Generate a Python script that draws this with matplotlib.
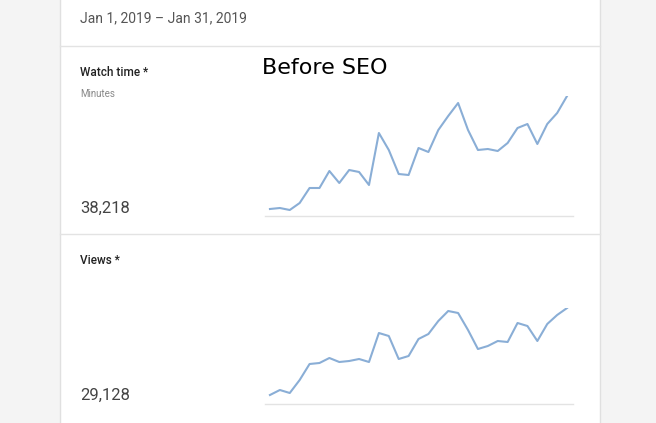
import matplotlib
matplotlib.use("Agg")
import matplotlib.pyplot as plt
from matplotlib.patches import Rectangle

days = list(range(1, 32))
watch_time = [214, 215, 213, 220, 235, 235, 252, 240, 253, 251, 238, 290, 273, 249, 248, 275, 271, 293, 307, 320, 293, 273, 274, 272, 280, 295, 299, 279, 299, 310, 327]
views = [28, 33, 30, 43, 59, 60, 65, 61, 62, 64, 61, 90, 87, 64, 67, 84, 89, 102, 112, 110, 93, 74, 77, 82, 81, 100, 97, 82, 99, 108, 115]

W, H = 656, 423
fig = plt.figure(figsize=(W/100, H/100), dpi=100)
fig.patch.set_facecolor("#f4f4f4")
bg = fig.add_axes([0, 0, 1, 1]); bg.set_xlim(0, W); bg.set_ylim(H, 0); bg.axis("off")
bg.add_patch(Rectangle((60, -5), 540, H + 10, facecolor="white", edgecolor="#e0e0e0", lw=1))
for y in (46, 234):
    bg.plot([60, 600], [y, y], color="#e3e3e3", lw=1)
for y in (216, 404):
    bg.plot([265, 573], [y, y], color="#e3e3e3", lw=1)
f = "Roboto"
bg.text(80, 18, "Jan 1, 2019 – Jan 31, 2019", fontsize=10, color="#555555", va="center", family=f)
bg.text(80, 73, "Watch time *", fontsize=8.5, color="#222222", va="center", family=f, weight="medium")
bg.text(80, 94, "Minutes", fontsize=7, color="#888888", va="center", family=f)
bg.text(80, 208, "38,218", fontsize=12, color="#444444", va="center", family=f)
bg.text(80, 261, "Views *", fontsize=8.5, color="#222222", va="center", family=f, weight="medium")
bg.text(80, 395, "29,128", fontsize=12, color="#444444", va="center", family=f)
bg.text(262, 68, "Before SEO", fontsize=16, color="black", va="center", family="DejaVu Sans")

def chart(left, top, bottom, vals, pad):
    ax = fig.add_axes([left/W, 1 - bottom/H, (573-265)/W, (bottom-top)/H])
    ax.plot(days, vals, color="#8aaed6", lw=1.5)
    ax.set_xlim(0.5, 31.6)
    ax.set_ylim(*pad)
    ax.axis("off")

chart(265, 96, 216, watch_time, (207, 327))
chart(265, 308, 404, views, (19, 115))
fig.savefig("out.png", dpi=100)
